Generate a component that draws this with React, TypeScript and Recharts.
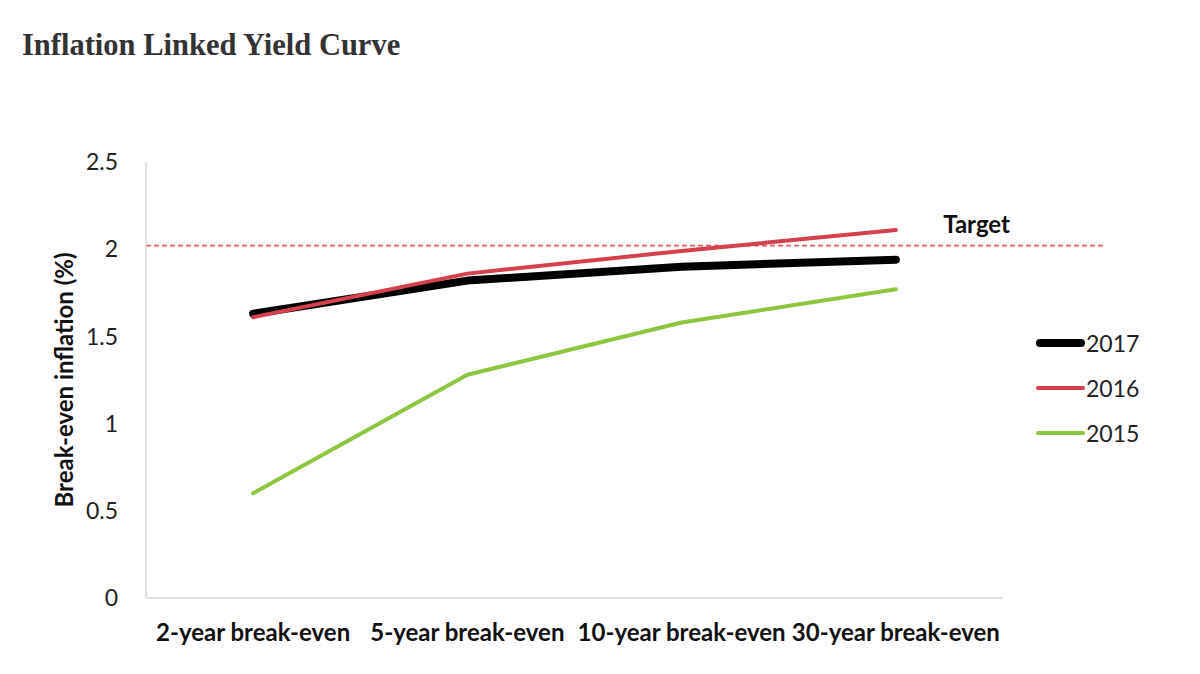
import React from 'react';
import { LineChart, Line, XAxis, YAxis, ReferenceLine, Legend } from 'recharts';

const categories = ['2-year break-even', '5-year break-even', '10-year break-even', '30-year break-even'];
const series2017 = [1.63, 1.82, 1.9, 1.94];
const series2016 = [1.61, 1.86, 1.99, 2.11];
const series2015 = [0.6, 1.28, 1.58, 1.77];
const yTicks = [0, 0.5, 1, 1.5, 2, 2.5];
const targetValue = 2.02;

const seriesDefs = [
  { key: 'y2017', name: '2017', color: '#000000', width: 8 },
  { key: 'y2016', name: '2016', color: '#d63f4c', width: 4 },
  { key: 'y2015', name: '2015', color: '#8dc63f', width: 4 },
];

const data = categories.map((c, i) => ({
  name: c,
  y2017: series2017[i],
  y2016: series2016[i],
  y2015: series2015[i],
}));

const FONT = 'Lato, "Open Sans", sans-serif';

const TargetShape = (props: any) => {
  const { x1, x2, y1 } = props;
  return (
    <g>
      <line x1={x1} x2={x2 + 102} y1={y1} y2={y1} stroke="#e05a66" strokeWidth={1.8} strokeDasharray="5 3" />
      <text x={x2 + 7} y={y1 - 13} textAnchor="end" fontFamily={FONT} fontWeight={700} fontSize={24} fill="#111">
        Target
      </text>
    </g>
  );
};

const LegendContent = () => (
  <div style={{ fontFamily: FONT }}>
    {seriesDefs.map((s) => (
      <div key={s.key} style={{ display: 'flex', alignItems: 'center', height: 45 }}>
        <svg width={51} height={12}>
          <line x1={s.width / 2 + 1} x2={50 - s.width / 2} y1={6} y2={6} stroke={s.color} strokeWidth={s.width} strokeLinecap="round" />
        </svg>
        <span style={{ fontSize: 23, color: '#222', marginLeft: 0 }}>{s.name}</span>
      </div>
    ))}
  </div>
);

export default function App() {
  return (
    <div style={{ position: 'absolute', left: 0, top: 0, width: 1200, height: 674, background: '#fff' }}>
      <div
        style={{
          position: 'absolute',
          left: 22,
          top: 28,
          fontFamily: '"Liberation Serif", serif',
          fontWeight: 700,
          fontSize: 30.5,
          color: '#333',
          whiteSpace: 'nowrap',
        }}
      >
        Inflation Linked Yield Curve
      </div>
      <LineChart
        width={1200}
        height={674}
        data={data}
        margin={{ top: 162, right: 197, bottom: 36, left: 0 }}
        style={{ position: 'absolute', left: 0, top: 0 }}
      >
        <XAxis
          dataKey="name"
          scale="band"
          height={40}
          axisLine={{ stroke: '#d9d9d9', strokeWidth: 1.5 }}
          tickLine={false}
          tickSize={0}
          tickMargin={26}
          interval={0}
          tick={{ fontFamily: FONT, fontWeight: 700, fontSize: 24, fill: '#111' }}
        />
        <YAxis
          width={146}
          domain={[0, 2.5]}
          ticks={yTicks}
          axisLine={{ stroke: '#d9d9d9', strokeWidth: 1.5 }}
          tickLine={false}
          tickSize={0}
          tickMargin={28}
          tick={{ fontFamily: FONT, fontSize: 23, fill: '#222' }}
          label={{
            value: 'Break-even inflation (%)',
            angle: -90,
            position: 'insideLeft',
            offset: 64,
            style: { textAnchor: 'middle', fontFamily: FONT, fontWeight: 700, fontSize: 24, fill: '#111' },
          }}
        />
        <ReferenceLine y={targetValue} ifOverflow="visible" shape={<TargetShape />} />
        {seriesDefs.map((s) => (
          <Line
            key={s.key}
            type="linear"
            dataKey={s.key}
            name={s.name}
            stroke={s.color}
            strokeWidth={s.width}
            strokeLinecap="round"
            strokeLinejoin="round"
            dot={false}
            activeDot={false}
            isAnimationActive={false}
          />
        ))}
        <Legend
          layout="vertical"
          align="center"
          verticalAlign="middle"
          content={<LegendContent />}
          wrapperStyle={{ position: 'absolute', left: 1035, top: 320, width: 130 }}
        />
      </LineChart>
    </div>
  );
}
